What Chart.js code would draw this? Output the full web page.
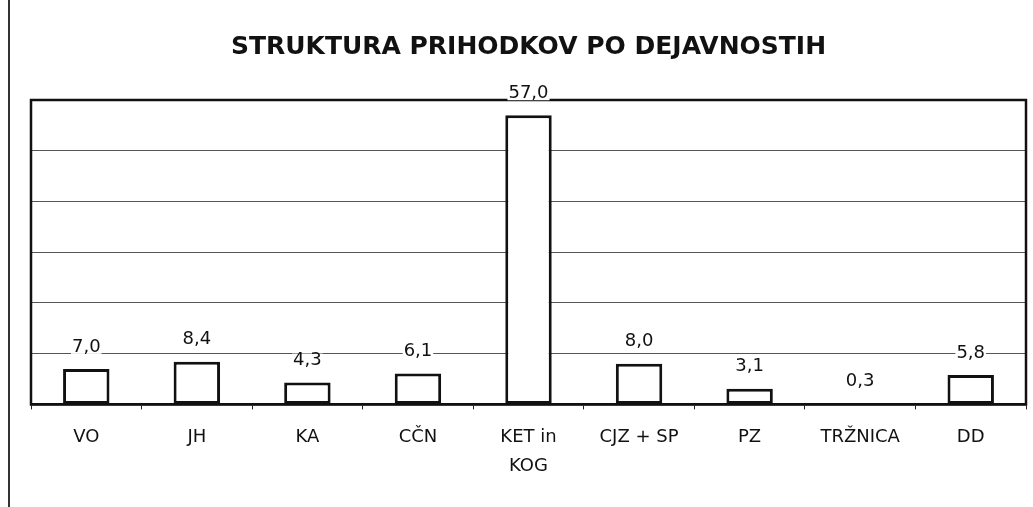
<!DOCTYPE html>
<html><head><meta charset="utf-8">
<script src="https://cdn.jsdelivr.net/npm/chart.js@4.4.1/dist/chart.umd.min.js"></script>
<style>
html,body{margin:0;padding:0;background:#fff;}
#wrap{position:relative;width:1033px;height:507px;overflow:hidden;}
#rob{position:absolute;left:8px;top:0;width:2px;height:507px;background:#333;}
#c{position:absolute;left:0;top:0;}
</style></head><body>
<div id="wrap"><div id="rob"></div><canvas id="c" width="1033" height="507"></canvas></div>
<script>
var kategorije=['VO','JH','KA','CČN',['KET in','KOG'],'CJZ + SP','PZ','TRŽNICA','DD'];
var prihodki=[7.0,8.4,4.3,6.1,57.0,8.0,3.1,0.3,5.8];
var naslov='STRUKTURA PRIHODKOV PO DEJAVNOSTIH';
var yMin=0,yMax=60,yKorak=10;

var pisava='"DejaVu Sans", Verdana, sans-serif';

function fmt(v){return v.toFixed(1).replace('.',',');}

// okvir + oznake vrednosti
var okvirInOznake={
    id:'okvirInOznake',
    afterDatasetsDraw:function(ch){
        var ctx=ch.ctx,a=ch.chartArea;
        ctx.save();
        ctx.strokeStyle='#111';ctx.lineWidth=2.5;
        ctx.strokeRect(a.left,a.top,a.right-a.left,a.bottom-a.top);
        ctx.font='18px '+pisava;
        ctx.textAlign='center';ctx.textBaseline='middle';
        var meta=ch.getDatasetMeta(0);
        for(var i=0;i<meta.data.length;i++){
            var b=meta.data[i];
            var t=fmt(prihodki[i]);
            var w=ctx.measureText(t).width;
            var cy=b.y-22;
            ctx.fillStyle='#fff';
            ctx.fillRect(b.x-w/2-1,cy-7,w+2,14);
            ctx.fillStyle='#111';
            ctx.fillText(t,b.x,cy);
        }
        ctx.restore();
    }
};

new Chart(document.getElementById('c'),{
    type:'bar',
    data:{labels:kategorije,datasets:[{data:prihodki,backgroundColor:'#fff',borderColor:'#111',borderWidth:3,borderSkipped:false,barPercentage:0.42,categoryPercentage:1}]},
    options:{
        responsive:false,animation:false,
        layout:{padding:{left:31,right:7,top:0,bottom:12}},
        plugins:{
            legend:{display:false},tooltip:{enabled:false},
            title:{display:true,text:naslov,color:'#111',font:{family:pisava,size:25,weight:'bold'},padding:{top:32,bottom:38}}
        },
        scales:{
            x:{
                grid:{display:true,drawOnChartArea:false,drawTicks:true,tickLength:5,color:'#222',offset:true},
                border:{display:true,color:'#111',width:2.5},
                ticks:{color:'#111',font:{family:pisava,size:18,lineHeight:1.6},padding:14,maxRotation:0,autoSkip:false}
            },
            y:{
                min:yMin,max:yMax,
                ticks:{display:false,stepSize:yKorak},
                grid:{color:'#555',lineWidth:1,drawTicks:false},
                border:{display:false}
            }
        }
    },
    plugins:[okvirInOznake]
});
</script>
</body></html>
